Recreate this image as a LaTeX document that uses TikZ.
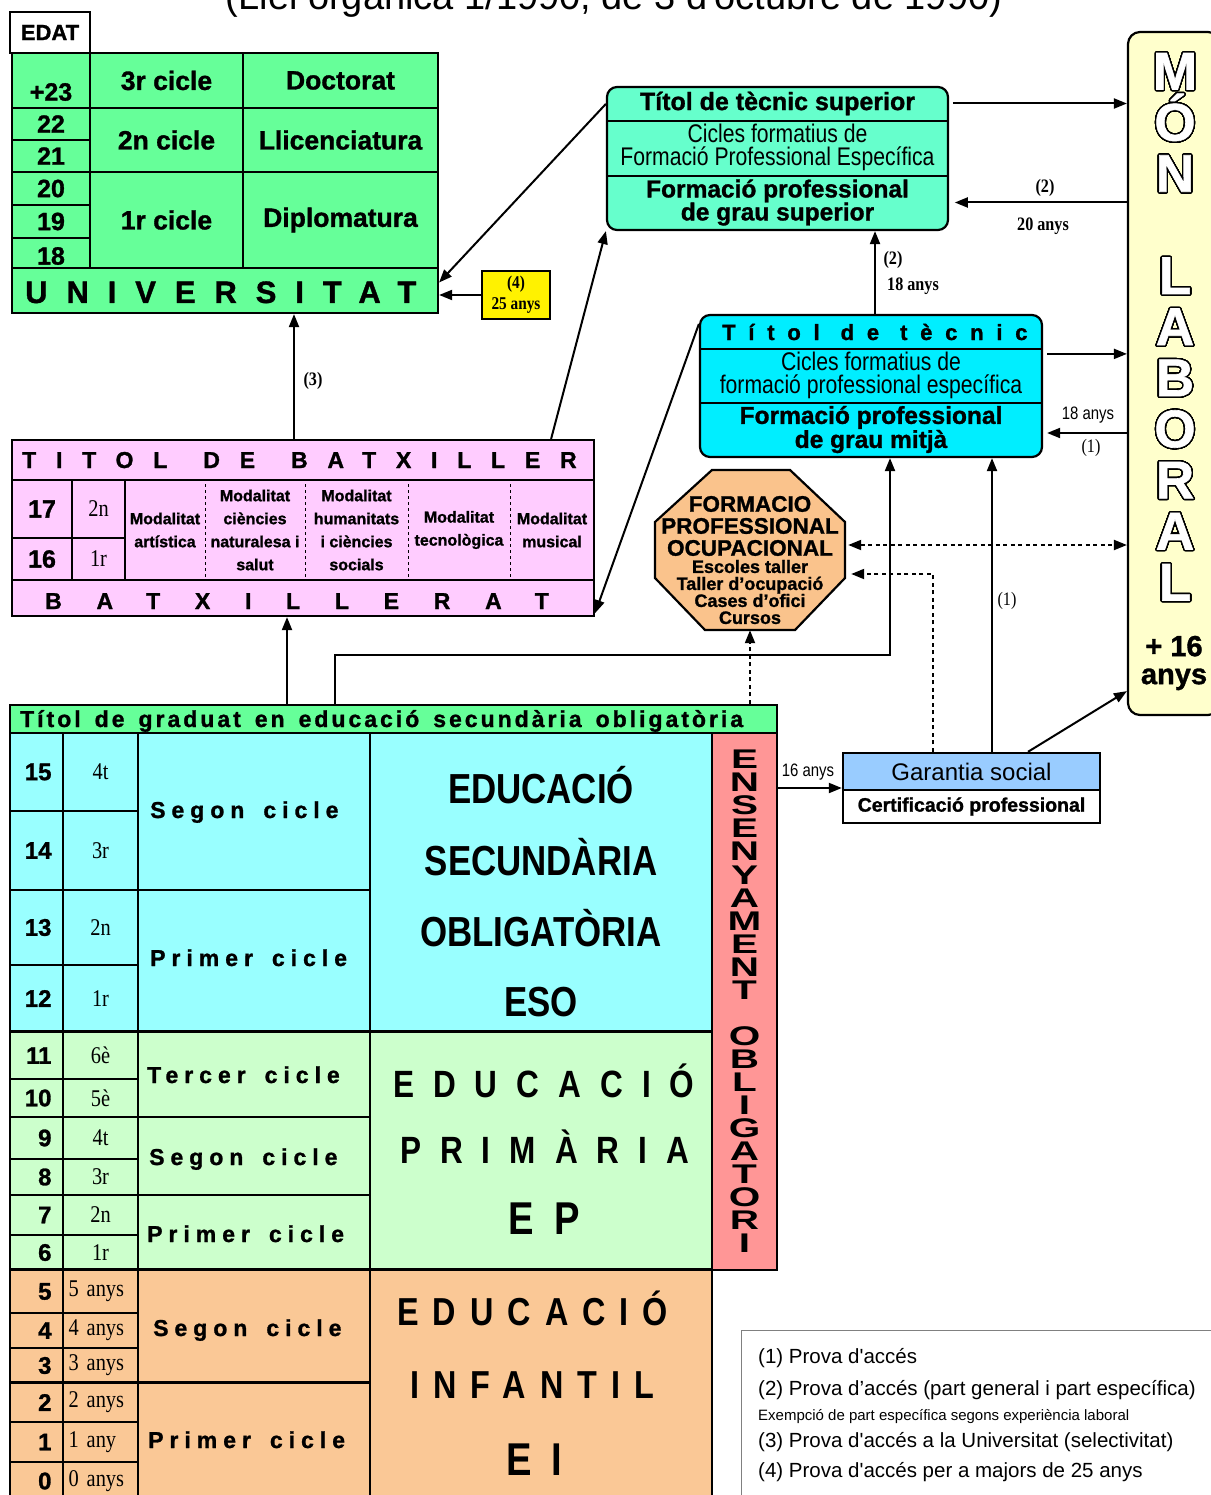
\documentclass[tikz,border=0pt]{standalone}
\usepackage{fontspec}
\setmainfont{Liberation Sans}[BoldFeatures={FakeBold=1.2}]
\newfontfamily\timesfont{Liberation Serif}
\newfontfamily\narrowtimes[FakeStretch=0.85]{Liberation Serif}
\newfontfamily\narrowsans[FakeStretch=0.83]{Liberation Sans}
\newfontfamily\widesans[FakeStretch=1.5]{Liberation Sans}
\usepackage[copies]{contour}
\contourlength{1.4pt}
\contournumber{48}
\usetikzlibrary{arrows.meta}

\definecolor{unigreen}{RGB}{102,255,153}
\definecolor{supgreen}{RGB}{102,255,204}
\definecolor{midcyan}{RGB}{0,238,255}
\definecolor{fpoorange}{RGB}{250,195,140}
\definecolor{batpink}{RGB}{255,204,255}
\definecolor{esocyan}{RGB}{153,255,255}
\definecolor{epgreen}{RGB}{204,255,204}
\definecolor{eiorange}{RGB}{250,200,150}
\definecolor{oblred}{RGB}{255,150,150}
\definecolor{monyellow}{RGB}{255,255,204}
\definecolor{garblue}{RGB}{153,204,255}

\newcommand{\fsz}[2]{\fontsize{#1pt}{#2pt}\selectfont}
\newcommand{\wsp}[1]{\spaceskip #1\relax}
\newcommand{\hol}[1]{\contour{black}{#1}}
% name, x1, y1, x2, y2, style, text
\newcommand{\cellbox}[7]{\node[cell,#6,minimum width={(#4-#2)*1pt},minimum height={(#5-#3)*1pt}] (#1) at ({(#2+#4)/2},{(#3+#5)/2}) {#7};}

\tikzset{
  cell/.style={draw, line width=1.6pt, inner sep=0pt, align=center},
  uni/.style={fill=unigreen, line width=2.2pt},
  agetxt/.style={font=\bfseries\fsz{25}{27}},
  agenum/.style={font=\bfseries\fsz{24}{26}, text width=30pt, align=right},
  crstxt/.style={font=\narrowtimes\fsz{24}{26}},
  anystxt/.style={font=\narrowtimes\fsz{24}{26}, text width=64pt, align=left},
  unifont/.style={font=\bfseries\fsz{26.5}{28}},
  cycfont/.style={anchor=base west, inner sep=0pt, font=\bfseries\fsz{23}{25}\addfontfeatures{LetterSpace=26}\wsp{19pt}},
  modfont/.style={font=\bfseries\fsz{16}{23}},
  bigsp/.style={anchor=base west, inner sep=0pt},
  lbl/.style={font=\narrowtimes\bfseries\fsz{19}{21}, inner sep=0pt},
  arr/.style={-{Triangle[length=13pt,width=10pt]}, line width=2pt},
  dotarr/.style={arr, dash pattern=on 4pt off 3.5pt},
  dotboth/.style={{Triangle[length=13pt,width=10pt]}-{Triangle[length=13pt,width=10pt]}, line width=2pt, dash pattern=on 4pt off 3.5pt},
}

\begin{document}
\begin{tikzpicture}[x=1pt,y=-1pt]
\useasboundingbox (0,0) rectangle (1210,1495);

\node[anchor=base, font=\fsz{38}{40}] (titol) at (614,10) {(Llei orgànica 1/1990, de 3 d\textquotesingle octubre de 1990)};

% universitat
\cellbox{edat}{10}{12}{90}{53}{fill=white, line width=2pt, font=\bfseries\fsz{22}{24}}{EDAT}
\cellbox{u23}{12}{53}{90}{108}{uni}{}
\node[agetxt] (u23txt) at (51,92) {+23};
\cellbox{u22}{12}{108}{90}{140}{uni,agetxt}{22}
\cellbox{u21}{12}{140}{90}{172}{uni,agetxt}{21}
\cellbox{u20}{12}{172}{90}{205}{uni,agetxt}{20}
\cellbox{u19}{12}{205}{90}{238}{uni,agetxt}{19}
\cellbox{u18}{12}{238}{90}{268}{uni}{}
\node[agetxt] (u18txt) at (51,256) {18};
\cellbox{cic3}{90}{53}{243}{108}{uni,unifont}{3r cicle}
\cellbox{cic2}{90}{108}{243}{172}{uni,unifont}{2n cicle}
\cellbox{cic1}{90}{172}{243}{268}{uni,unifont}{1r cicle}
\cellbox{doct}{243}{53}{438}{108}{uni,unifont}{Doctorat}
\cellbox{llic}{243}{108}{438}{172}{uni,unifont}{Llicenciatura}
\cellbox{dipl}{243}{172}{438}{268}{uni,unifont}{Diplomatura}
\cellbox{unirow}{12}{268}{438}{313}{uni}{}
\node[bigsp, font=\bfseries\fsz{31}{33}\addfontfeatures{LetterSpace=61}] (unitxt) at (25,303) {UNIVERSITAT};
\cellbox{quatre}{482}{271}{550}{319}{fill=yellow, line width=1.8pt, font=\narrowtimes\bfseries\fsz{18}{21}}{(4)\\25 anys}

% tecnic superior
\cellbox{tsup}{607}{87}{948}{230}{fill=supgreen, rounded corners=10pt, line width=2.2pt}{}
\cellbox{tsupA}{607}{87}{948}{120}{draw=none, font=\bfseries\fsz{25}{27}}{Títol de tècnic superior}
\cellbox{tsupB}{607}{120}{948}{175}{draw=none, font=\narrowsans\fsz{25.5}{23}}{Cicles formatius de\\Formació Professional Específica}
\cellbox{tsupC}{607}{175}{948}{230}{draw=none, font=\bfseries\fsz{24.5}{23}}{Formació professional\\de grau superior}
\draw[line width=1.6pt] (tsupA.south west) -- (tsupA.south east);
\draw[line width=1.6pt] (tsupB.south west) -- (tsupB.south east);

% tecnic (grau mitja)
\cellbox{tmig}{700}{315}{1042}{457}{fill=midcyan, rounded corners=10pt, line width=2.2pt}{}
\cellbox{tmigA}{700}{315}{1042}{348}{draw=none}{}
\node[bigsp, font=\bfseries\fsz{22}{24}\addfontfeatures{LetterSpace=58}\wsp{21pt}] (tmigtxt) at (722,340) {Títol de tècnic};
\cellbox{tmigB}{700}{348}{1042}{402}{draw=none, font=\narrowsans\fsz{25.5}{23}}{Cicles formatius de\\formació professional específica}
\cellbox{tmigC}{700}{402}{1042}{457}{draw=none, font=\bfseries\fsz{24.5}{23}}{Formació professional\\de grau mitjà}
\draw[line width=1.6pt] (tmigA.south west) -- (tmigA.south east);
\draw[line width=1.6pt] (tmigB.south west) -- (tmigB.south east);

% mon laboral
\cellbox{mon}{1128}{32}{1220}{715}{fill=monyellow, rounded corners=12pt, line width=2.2pt}{}
\node[text=white, font=\bfseries\fsz{53}{51.1}, align=center, inner sep=0pt] (monlab) at (1175,327.5) {\hol{M}\\\hol{Ó}\\\hol{N}\\[51.1pt]\hol{L}\\\hol{A}\\\hol{B}\\\hol{O}\\\hol{R}\\\hol{A}\\\hol{L}};
\node[font=\bfseries\fsz{29}{28}, align=center, inner sep=0pt] (mon16) at (1174,663) {+ 16\\anys};

% formacio professional ocupacional
\draw[line width=2.2pt, fill=fpoorange] (712,470) -- (790,470) -- (845,522) -- (845,578) -- (795,630) -- (705,630) -- (655,578) -- (655,522) -- cycle;
\node[minimum width=190pt, minimum height=160pt, inner sep=0pt] (fpo) at (750,550) {};
\node[align=center, inner sep=0pt, font=\bfseries\fsz{22.5}{22}] (fpoA) at (750,526) {FORMACIO\\PROFESSIONAL\\OCUPACIONAL};
\node[align=center, inner sep=0pt, font=\bfseries\fsz{18}{17}] (fpoB) at (750,592) {Escoles taller\\Taller d’ocupació\\Cases d’ofici\\Cursos};

% batxillerat
\cellbox{batx}{12}{440}{594}{616}{fill=batpink, line width=2.2pt}{}
\cellbox{batxtit}{12}{440}{594}{480}{fill=batpink, line width=2.2pt}{}
\node[bigsp, font=\bfseries\fsz{23}{25}\addfontfeatures{LetterSpace=86}\wsp{36pt}] (batxtittxt) at (22,468) {TITOL DE BATXILLER};
\cellbox{b17}{12}{480}{72}{538}{fill=batpink, agetxt}{17}
\cellbox{b16}{12}{538}{72}{580}{fill=batpink, agetxt}{16}
\cellbox{b2n}{72}{480}{125}{538}{fill=batpink, crstxt}{2n}
\cellbox{b1r}{72}{538}{125}{580}{fill=batpink, crstxt}{1r}
\cellbox{mod1}{125}{480}{205}{580}{draw=none, modfont}{Modalitat\\artística}
\cellbox{mod2}{205}{480}{305}{580}{draw=none, modfont}{Modalitat\\ciències\\naturalesa i\\salut}
\cellbox{mod3}{305}{480}{408}{580}{draw=none, modfont}{Modalitat\\humanitats\\i ciències\\socials}
\cellbox{mod4}{408}{480}{510}{580}{draw=none, modfont}{Modalitat\\tecnològica}
\cellbox{mod5}{510}{480}{594}{580}{draw=none, modfont}{Modalitat\\musical}
\draw[line width=1.3pt, dash pattern=on 3pt off 3pt] ([yshift=-5pt]mod1.north east) -- ([yshift=2pt]mod1.south east);
\draw[line width=1.3pt, dash pattern=on 3pt off 3pt] ([yshift=-5pt]mod2.north east) -- ([yshift=2pt]mod2.south east);
\draw[line width=1.3pt, dash pattern=on 3pt off 3pt] ([yshift=-5pt]mod3.north east) -- ([yshift=2pt]mod3.south east);
\draw[line width=1.3pt, dash pattern=on 3pt off 3pt] ([yshift=-5pt]mod4.north east) -- ([yshift=2pt]mod4.south east);
\cellbox{batxrow}{12}{580}{594}{616}{fill=batpink, line width=2.2pt}{}
\node[bigsp, font=\bfseries\fsz{23}{25}\addfontfeatures{LetterSpace=151}] (batxrowtxt) at (45,609) {BATXILLERAT};

% graduat ESO
\cellbox{graduat}{10}{705}{777}{733}{fill=unigreen, line width=2.2pt}{}
\node[bigsp, font=\bfseries\fsz{23}{25}\addfontfeatures{LetterSpace=13}\wsp{14pt}] (gradtxt) at (20,727) {Títol de graduat en educació secundària obligatòria};

% ESO
\cellbox{e15}{10}{733}{63}{811}{fill=esocyan, agenum}{15}
\cellbox{e14}{10}{811}{63}{890}{fill=esocyan, agenum}{14}
\cellbox{e13}{10}{890}{63}{965}{fill=esocyan, agenum}{13}
\cellbox{e12}{10}{965}{63}{1032}{fill=esocyan, agenum}{12}
\cellbox{k4t}{63}{733}{138}{811}{fill=esocyan, crstxt}{4t}
\cellbox{k3r}{63}{811}{138}{890}{fill=esocyan, crstxt}{3r}
\cellbox{k2n}{63}{890}{138}{965}{fill=esocyan, crstxt}{2n}
\cellbox{k1r}{63}{965}{138}{1032}{fill=esocyan, crstxt}{1r}
\cellbox{esoseg}{138}{733}{370}{890}{fill=esocyan}{}
\cellbox{esoprim}{138}{890}{370}{1032}{fill=esocyan}{}
\node[cycfont] (esosegtxt) at (150,818) {Segon cicle};
\node[cycfont] (esoprimtxt) at (150,966) {Primer cicle};
\cellbox{esomain}{370}{733}{712}{1032}{fill=esocyan}{}
\node[anchor=base, inner sep=0pt, font=\narrowsans\bfseries\fsz{42}{44}] (esoL1) at (541,803) {EDUCACIÓ};
\node[anchor=base, inner sep=0pt, font=\narrowsans\bfseries\fsz{42}{44}] (esoL2) at (541,875) {SECUNDÀRIA};
\node[anchor=base, inner sep=0pt, font=\narrowsans\bfseries\fsz{42}{44}] (esoL3) at (541,946) {OBLIGATÒRIA};
\node[anchor=base, inner sep=0pt, font=\narrowsans\bfseries\fsz{42}{44}] (esoL4) at (541,1016) {ESO};

% primaria
\cellbox{p11}{10}{1032}{63}{1079}{fill=epgreen, agenum}{11}
\cellbox{p10}{10}{1079}{63}{1117}{fill=epgreen, agenum}{10}
\cellbox{p9}{10}{1117}{63}{1159}{fill=epgreen, agenum}{9}
\cellbox{p8}{10}{1159}{63}{1195}{fill=epgreen, agenum}{8}
\cellbox{p7}{10}{1195}{63}{1235}{fill=epgreen, agenum}{7}
\cellbox{p6}{10}{1235}{63}{1270}{fill=epgreen, agenum}{6}
\cellbox{q6}{63}{1032}{138}{1079}{fill=epgreen, crstxt}{6è}
\cellbox{q5}{63}{1079}{138}{1117}{fill=epgreen, crstxt}{5è}
\cellbox{q4}{63}{1117}{138}{1159}{fill=epgreen, crstxt}{4t}
\cellbox{q3}{63}{1159}{138}{1195}{fill=epgreen, crstxt}{3r}
\cellbox{q2}{63}{1195}{138}{1235}{fill=epgreen, crstxt}{2n}
\cellbox{q1}{63}{1235}{138}{1270}{fill=epgreen, crstxt}{1r}
\cellbox{eptec}{138}{1032}{370}{1117}{fill=epgreen}{}
\cellbox{epseg}{138}{1117}{370}{1195}{fill=epgreen}{}
\cellbox{epprim}{138}{1195}{370}{1270}{fill=epgreen}{}
\node[cycfont] (eptectxt) at (147,1083) {Tercer cicle};
\node[cycfont] (epsegtxt) at (149,1165) {Segon cicle};
\node[cycfont] (epprimtxt) at (147,1242) {Primer cicle};
\cellbox{epmain}{370}{1032}{712}{1270}{fill=epgreen}{}
\node[bigsp, font=\narrowsans\bfseries\fsz{38}{40}\addfontfeatures{LetterSpace=50}] (epL1) at (393,1097) {EDUCACIÓ};
\node[bigsp, font=\narrowsans\bfseries\fsz{38}{40}\addfontfeatures{LetterSpace=50}] (epL2) at (400,1163) {PRIMÀRIA};
\node[bigsp, font=\narrowsans\bfseries\fsz{46}{48}\addfontfeatures{LetterSpace=46}] (epL3) at (508,1234) {EP};

% infantil
\cellbox{i5}{10}{1270}{63}{1313}{fill=eiorange, agenum}{5}
\cellbox{i4}{10}{1313}{63}{1348}{fill=eiorange, agenum}{4}
\cellbox{i3}{10}{1348}{63}{1383}{fill=eiorange, agenum}{3}
\cellbox{i2}{10}{1383}{63}{1422}{fill=eiorange, agenum}{2}
\cellbox{i1}{10}{1422}{63}{1462}{fill=eiorange, agenum}{1}
\cellbox{i0}{10}{1462}{63}{1500}{fill=eiorange, agenum}{0}
\cellbox{y5}{63}{1270}{138}{1313}{fill=eiorange, anystxt}{5 anys}
\cellbox{y4}{63}{1313}{138}{1348}{fill=eiorange, anystxt}{4 anys}
\cellbox{y3}{63}{1348}{138}{1383}{fill=eiorange, anystxt}{3 anys}
\cellbox{y2}{63}{1383}{138}{1422}{fill=eiorange, anystxt}{2 anys}
\cellbox{y1}{63}{1422}{138}{1462}{fill=eiorange, anystxt}{1 any}
\cellbox{y0}{63}{1462}{138}{1500}{fill=eiorange, anystxt}{0 anys}
\cellbox{eiseg}{138}{1270}{370}{1383}{fill=eiorange}{}
\cellbox{eiprim}{138}{1383}{370}{1500}{fill=eiorange}{}
\node[cycfont] (eisegtxt) at (153,1336) {Segon cicle};
\node[cycfont] (eiprimtxt) at (148,1448) {Primer cicle};
\cellbox{eimain}{370}{1270}{712}{1500}{fill=eiorange}{}
\node[bigsp, font=\narrowsans\bfseries\fsz{39}{41}\addfontfeatures{LetterSpace=36}] (eiL1) at (397,1325) {EDUCACIÓ};
\node[bigsp, font=\narrowsans\bfseries\fsz{39}{41}\addfontfeatures{LetterSpace=36}] (eiL2) at (410,1398) {INFANTIL};
\node[bigsp, font=\narrowsans\bfseries\fsz{46}{48}\addfontfeatures{LetterSpace=44}] (eiL3) at (506,1475) {EI};

\draw[line width=3pt] (p11.north west) -- (epmain.north east);
\draw[line width=3pt] (i5.north west) -- (eimain.north east);
\draw[line width=3pt] (i2.north west) -- (eiprim.north east);

% ensenyament obligatori
\cellbox{oblig}{712}{733}{777}{1270}{fill=oblred, line width=2.2pt, font=\widesans\bfseries\fsz{27}{23.05}}{E\\N\\S\\E\\N\\Y\\A\\M\\E\\N\\T\\[23.05pt]O\\B\\L\\I\\G\\A\\T\\O\\R\\I}

% garantia social
\cellbox{garA}{843}{753}{1100}{790}{fill=garblue, font=\fsz{24}{26}}{Garantia social}
\cellbox{garB}{843}{790}{1100}{823}{fill=white, font=\bfseries\fsz{19.5}{22}}{Certificació professional}
\cellbox{garantia}{843}{753}{1100}{823}{line width=2.4pt}{}

% llegenda
\cellbox{legend}{741}{1330}{1220}{1500}{draw=gray, line width=1pt, fill=white}{}
\node[anchor=west, inner sep=0pt, font=\fsz{20.5}{22}] (leg1) at (758,1358) {(1) Prova d\textquotesingle accés};
\node[anchor=west, inner sep=0pt, font=\fsz{20.5}{22}] (leg2) at (758,1390) {(2) Prova d’accés (part general i part específica)};
\node[anchor=west, inner sep=0pt, font=\fsz{15}{17}] (leg3) at (758,1417) {Exempció de part específica segons experiència laboral};
\node[anchor=west, inner sep=0pt, font=\fsz{20.5}{22}] (leg4) at (758,1442) {(3) Prova d\textquotesingle accés a la Universitat (selectivitat)};
\node[anchor=west, inner sep=0pt, font=\fsz{20.5}{22}] (leg5) at (758,1472) {(4) Prova d\textquotesingle accés per a majors de 25 anys};

% connectors
\draw[arr] ([yshift=-18pt]tsup.north west) -- ([yshift=8pt]unirow.east);
\draw[arr] (quatre.west) -- (quatre.west -| unirow.east);
\draw[arr] (batx.north -| 294,0) -- (unirow.south -| 294,0);
\node[lbl] (l3) at (313,381) {(3)};
\draw[arr] ([xshift=-44pt]batx.north east) -- (tsup.south west);
\draw[arr] ([yshift=-10pt]tmig.north west) -- ([yshift=4pt]batx.south east);
\draw[arr] ([xshift=4pt]tsupA.east) -- (tsupA.east -| mon.west);
\draw[arr] (mon.west |- tsupC.east) -- ([xshift=6pt]tsupC.east);
\node[lbl] (l2a) at (1045,188) {(2)};
\node[lbl] (l20) at (1043,226) {20 anys};
\coordinate (up2) at ([xshift=4pt]tmig.north);
\draw[arr] (up2) -- (up2 |- tsup.south);
\node[lbl] (l2b) at (893,260) {(2)};
\node[lbl] (l18b) at (913,286) {18 anys};
\coordinate (c9) at ([yshift=-40pt]tmig.north east);
\draw[arr] ([xshift=4pt]c9) -- (c9 -| mon.west);
\coordinate (c10) at ([yshift=-47pt]tmig.east);
\draw[arr] (c10 -| mon.west) -- ([xshift=4pt]c10);
\node[inner sep=0pt, font=\narrowsans\fsz{18}{20}] (l18) at (1088,415) {18 anys};
\node[inner sep=0pt, font=\narrowtimes\fsz{19}{21}] (l1a) at (1091,448) {(1)};
\coordinate (c11) at ([yshift=5pt]fpo.east);
\draw[dotboth] ([xshift=3pt]c11) -- (c11 -| mon.west);
\draw[dotarr] ([xshift=-38.5pt]garantia.north) |- ([xshift=6pt,yshift=-24pt]fpo.east);
\draw[dotarr] (graduat.north -| fpo.south) -- (fpo.south);
\coordinate (bend) at (335,655);
\draw[arr] (graduat.north -| bend) -- (bend) -| ([xshift=19pt]tmig.south);
\draw[arr] (graduat.north -| 287,0) -- (batx.south -| 287,0);
\coordinate (up1) at ([xshift=20.5pt]garantia.north);
\draw[arr] (up1) -- (up1 |- tmig.south);
\node[inner sep=0pt, font=\narrowtimes\fsz{19}{21}] (l1b) at (1007,601) {(1)};
\draw[arr] ([xshift=56.5pt]garantia.north) -- ([yshift=25pt]mon.south west);
\draw[arr] (oblig.east |- garantia.west) -- (garantia.west);
\node[inner sep=0pt, font=\narrowsans\fsz{18}{20}] (l16) at (808,772) {16 anys};
\end{tikzpicture}
\end{document}
